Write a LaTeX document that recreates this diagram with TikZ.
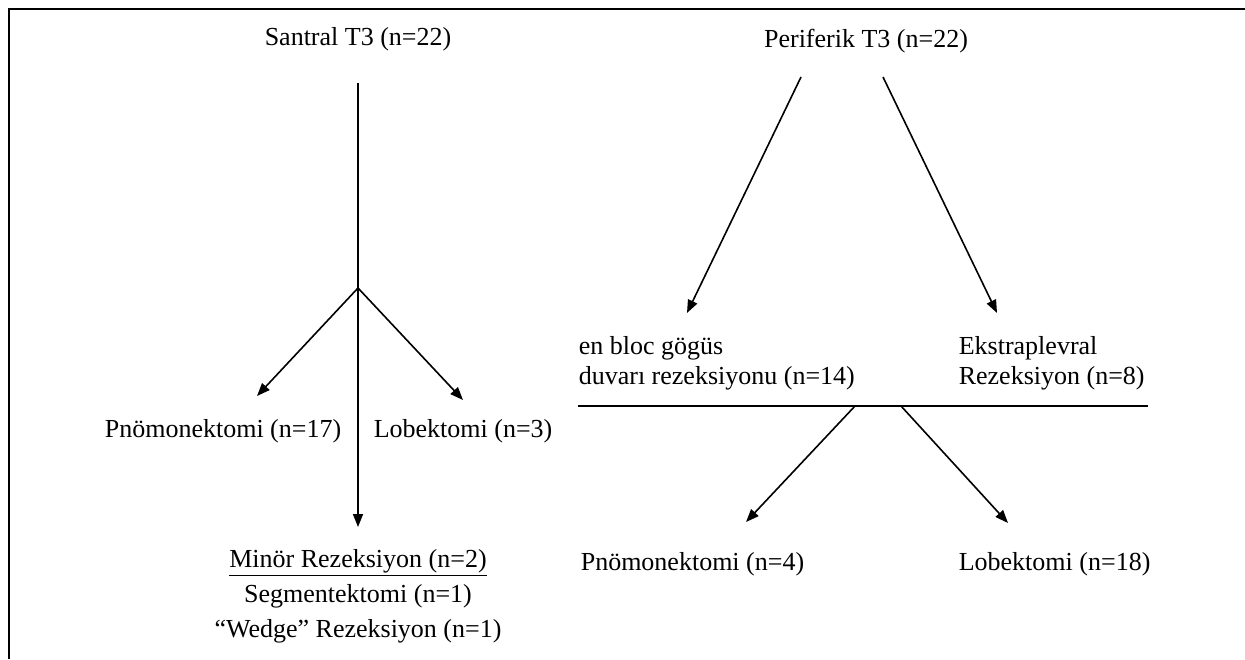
\documentclass[tikz,border=0pt]{standalone}
\usepackage{fontspec}
\setmainfont{Liberation Serif}
\usetikzlibrary{positioning, arrows.meta}

\begin{document}
\begin{tikzpicture}[x=0.5pt, y=-0.5pt, line width=0.8pt,
    >={Triangle[length=6.5pt, width=5pt]},
    lbl/.style={inner sep=0pt, font=\fontsize{13pt}{15pt}\selectfont}]
    \useasboundingbox (0,0) rectangle (1245,659);
    \draw [line width=1pt] (9,659) -- (9,9) -- (1245,9);

    % santral T3
    \node [lbl, anchor=base] (santral) at (358,45) {Santral T3 (n=22)};
    \coordinate (sTop) at (358,83);
    \coordinate (sFork) at (358,288);
    \coordinate (sLeft) at (257,396);
    \coordinate (sRight) at (463,400);
    \coordinate (sDown) at (358,527);
    \node [lbl, anchor=base east] (pnomoS) at (342,437) {Pnömonektomi (n=17)};
    \node [lbl, anchor=base west] (lobS) at (373,437) {Lobektomi (n=3)};
    \node [lbl, anchor=base] (minor) at (358,567) {\underline{Minör Rezeksiyon (n=2)}};
    \node [lbl, anchor=base] (segment) at (358,602) {Segmentektomi (n=1)};
    \node [lbl, anchor=base] (wedge) at (358,637) {“Wedge” Rezeksiyon (n=1)};
    \draw (sTop) -- (sFork);
    \draw [->] (sFork) -- (sLeft);
    \draw [->] (sFork) -- (sRight);
    \draw [->] (sFork) -- (sDown);

    % periferik T3
    \node [lbl, anchor=base] (periferik) at (866,47) {Periferik T3 (n=22)};
    \coordinate (pTopL) at (801,77);
    \coordinate (pTopR) at (883,77);
    \coordinate (pTipL) at (687,313);
    \coordinate (pTipR) at (997,313);
    \node [lbl, anchor=base west] (enbloc) at (578,354) {en bloc gögüs};
    \node [lbl, anchor=base west] (duvari) at (578,384) {duvarı rezeksiyonu (n=14)};
    \node [lbl, anchor=base west] (ekstra) at (958,354) {Ekstraplevral};
    \node [lbl, anchor=base west] (rezeksiyon) at (958,384) {Rezeksiyon (n=8)};
    \coordinate (barL) at (578,406);
    \coordinate (barR) at (1148,406);
    \coordinate (barA) at (855,406);
    \coordinate (barB) at (901,406);
    \coordinate (pTip4) at (746,522);
    \coordinate (pTip18) at (1008,523);
    \node [lbl, anchor=base west] (pnomoP) at (580,570) {Pnömonektomi (n=4)};
    \node [lbl, anchor=base west] (lobP) at (958,570) {Lobektomi (n=18)};
    \draw [->] (pTopL) -- (pTipL);
    \draw [->] (pTopR) -- (pTipR);
    \draw (barL) -- (barR);
    \draw [->] (barA) -- (pTip4);
    \draw [->] (barB) -- (pTip18);
\end{tikzpicture}
\end{document}
